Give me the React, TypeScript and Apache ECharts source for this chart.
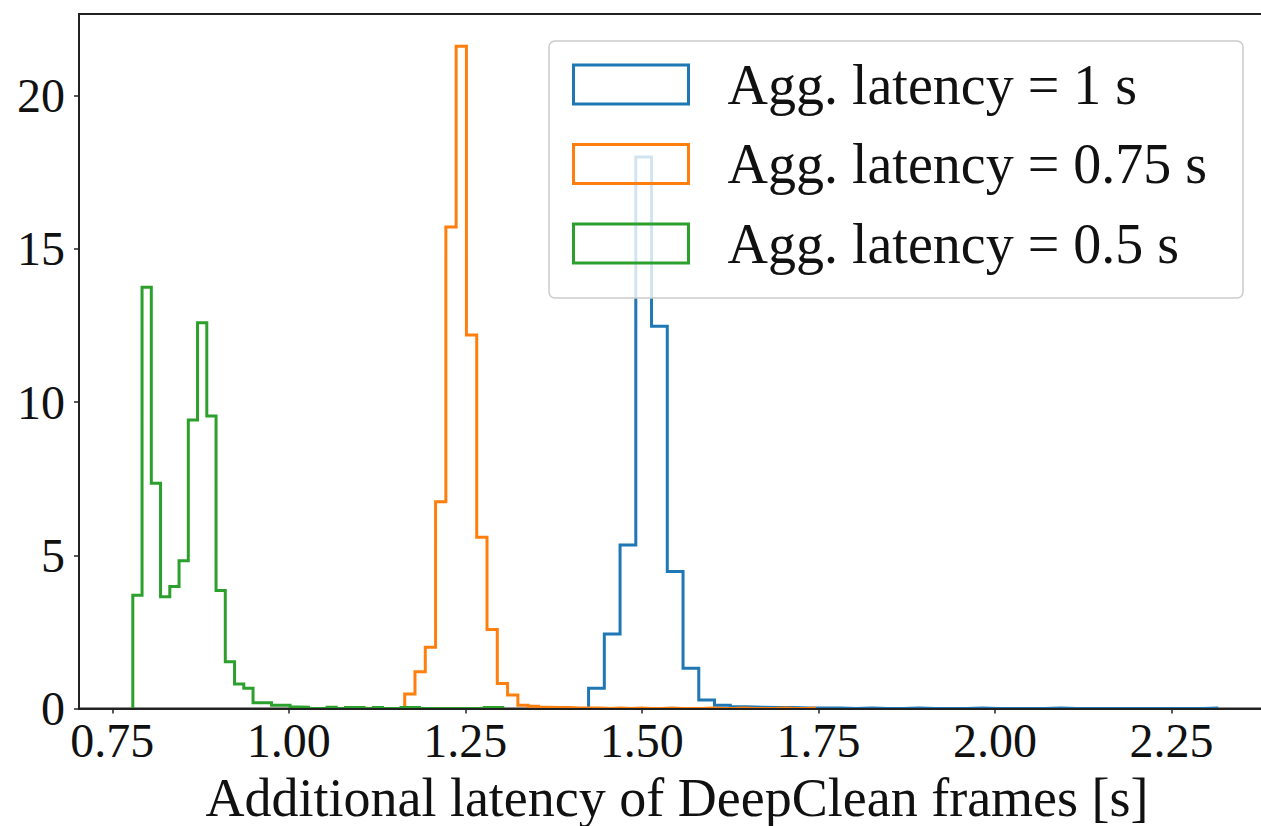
import React, { useEffect, useRef } from "react";
import * as echarts from "echarts";

// ---- data (density histograms, 40 bins each) ----
const seriesNames = [
  "Agg. latency = 1 s",
  "Agg. latency = 0.75 s",
  "Agg. latency = 0.5 s",
];
const seriesColors = ["#1f77b4", "#ff7f0e", "#2ca02c"];

const blueBinStart = 1.4245;
const blueBinWidth = 0.0223;
const blueDensity = [
  0.66, 2.43, 5.34, 18.0, 12.48, 4.47, 1.31, 0.28, 0.11, 0.06,
  0.04, 0.03, 0.03, 0.02, 0.02, 0.02, 0, 0.02, 0, 0,
  0.02, 0, 0, 0, 0.02, 0, 0, 0, 0, 0.02,
  0, 0, 0, 0, 0, 0, 0, 0, 0, 0.02,
];

const orangeBinStart = 1.1641;
const orangeBinWidth = 0.01457;
const orangeDensity = [
  0.47, 1.2, 2.0, 6.75, 15.72, 21.62, 12.19, 5.59, 2.58, 0.82,
  0.44, 0.11, 0.07, 0.04, 0.03, 0.03, 0.02, 0.02, 0.02, 0,
  0.02, 0, 0.02, 0, 0, 0.02, 0, 0, 0, 0.02,
  0, 0, 0.02, 0, 0, 0, 0.02, 0, 0, 0.02,
];

const greenBinStart = 0.779;
const greenBinWidth = 0.0131;
const greenDensity = [
  3.7, 13.75, 7.35, 3.65, 3.98, 4.82, 9.42, 12.59, 9.55, 3.85,
  1.53, 0.8, 0.66, 0.19, 0.19, 0.11, 0.11, 0.05, 0.04, 0,
  0, 0.04, 0, 0.03, 0.03, 0, 0.03, 0, 0, 0.03,
  0.03, 0, 0, 0, 0, 0, 0, 0, 0.03, 0.03,
];

const xTicks = [0.75, 1.0, 1.25, 1.5, 1.75, 2.0, 2.25];
const yTicks = [0, 5, 10, 15, 20];
const xRange = [0.7028, 2.3967];
const yRange = [0, 22.67];
const xAxisTitle = "Additional latency of DeepClean frames [s]";

function stepPoints(start: number, width: number, dens: number[]) {
  const pts: number[][] = [[start, 0]];
  dens.forEach((h, i) => {
    const a = start + i * width;
    pts.push([a, h]);
    pts.push([a + width, h]);
  });
  pts.push([start + dens.length * width, 0]);
  return pts;
}

const FONT = "Liberation Serif";

export default function App() {
  const ref = useRef<HTMLDivElement>(null);
  useEffect(() => {
    if (!ref.current) return;
    const chart = echarts.init(ref.current, undefined, { renderer: "svg" });
    const hist = [
      stepPoints(blueBinStart, blueBinWidth, blueDensity),
      stepPoints(orangeBinStart, orangeBinWidth, orangeDensity),
      stepPoints(greenBinStart, greenBinWidth, greenDensity),
    ];
    chart.setOption({
      animation: false,
      backgroundColor: "#ffffff",
      grid: {
        left: 79,
        top: 14,
        width: 1196,
        height: 694.5,
        outerBoundsMode: "none",
        containLabel: false,
        show: true,
        borderColor: "#222222",
        borderWidth: 2,
        backgroundColor: "transparent",
      },
      legend: {
        orient: "vertical",
        left: 549,
        top: 41,
        padding: [15.5, 36, 26.5, 23],
        itemWidth: 115,
        itemHeight: 39,
        itemGap: 23.5,
        selectedMode: false,
        backgroundColor: "rgba(255,255,255,0.8)",
        borderColor: "#cccccc",
        borderWidth: 1.5,
        borderRadius: 6,
        textStyle: {
          fontFamily: FONT,
          fontSize: 56,
          color: "#111111",
          lineHeight: 54,
          padding: [0, 0, 0, 34],
        },
        data: seriesNames.map((n, i) => ({
          name: n,
          icon: "rect",
          itemStyle: {
            color: "rgba(0,0,0,0)",
            borderColor: seriesColors[i],
            borderWidth: 3,
          },
        })),
      },
      xAxis: {
        type: "value",
        min: xRange[0],
        max: xRange[1],
        z: 3,
        splitLine: { show: false },
        axisLine: { show: true, onZero: false, lineStyle: { color: "#222222", width: 2 } },
        axisTick: {
          show: true,
          length: 5,
          customValues: xTicks,
          lineStyle: { color: "#222222", width: 1.5 },
        },
        axisLabel: {
          customValues: xTicks,
          formatter: (v: number) => v.toFixed(2),
          fontFamily: FONT,
          fontSize: 48,
          color: "#111111",
          margin: 8,
          lineHeight: 48,
        },
        name: xAxisTitle,
        nameLocation: "middle",
        nameGap: 62,
        nameTextStyle: { fontFamily: FONT, fontSize: 54, color: "#111111", lineHeight: 54 },
      },
      yAxis: {
        type: "value",
        min: yRange[0],
        max: yRange[1],
        z: 3,
        splitLine: { show: false },
        axisLine: { show: true, lineStyle: { color: "#222222", width: 2 } },
        axisTick: {
          show: true,
          length: 5,
          customValues: yTicks,
          lineStyle: { color: "#222222", width: 1.5 },
        },
        axisLabel: {
          customValues: yTicks,
          formatter: (v: number) => String(v),
          fontFamily: FONT,
          fontSize: 48,
          color: "#111111",
          margin: 14,
        },
      },
      series: hist.map((pts, i) => ({
        name: seriesNames[i],
        type: "line",
        data: pts,
        symbol: "none",
        showSymbol: false,
        z: 2,
        color: seriesColors[i],
        lineStyle: { color: seriesColors[i], width: 3, join: "miter" },
      })),
    });
    return () => chart.dispose();
  }, []);
  return (
    <div
      style={{
        position: "absolute",
        left: 0,
        top: 0,
        width: 1261,
        height: 826,
        overflow: "hidden",
        background: "#fff",
      }}
    >
      <div ref={ref} style={{ width: 1290, height: 826 }} />
    </div>
  );
}
